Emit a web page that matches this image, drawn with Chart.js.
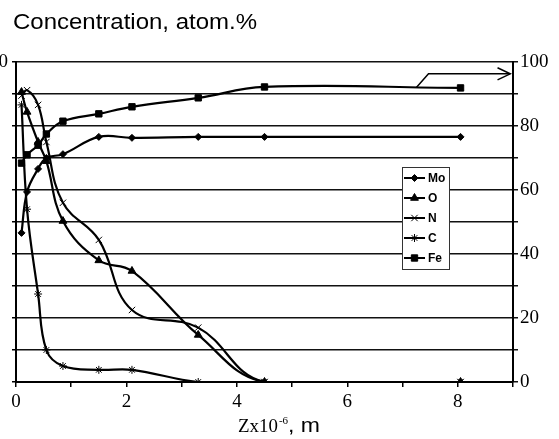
<!DOCTYPE html>
<html>
<head>
<meta charset="utf-8">
<script src="https://cdn.jsdelivr.net/npm/chart.js@4/dist/chart.umd.min.js"></script>
<style>
  html, body { margin: 0; padding: 0; background: #fff; }
  #wrap { position: relative; width: 559px; height: 439px; }
</style>
</head>
<body>
<div id="wrap"><canvas id="chart" width="559" height="439"></canvas></div>
<script>
// depth, x10^-6 m
const depth = [0.1, 0.2, 0.4, 0.55, 0.85, 1.5, 2.1, 3.3, 4.5, 8.05];

// concentrations, atom.%
const mo = [46.6, 59.4, 66.6, 70, 71.2, 76.6, 76.3, 76.6, 76.6, 76.6];
const o  = [90.6, 84.4, 75, 69, 50.3, 38, 34.7, 14.7, 0, 0];
const n  = [89.5, 91.2, 86.6, 75, 56, 44.4, 22.5, 17, 0, 0];
const c  = [86.6, 54, 27.5, 10, 5, 3.8, 3.8, 0, 0, 0];
const fe = [68.4, 71, 74, 77.5, 81.5, 83.8, 86, 88.8, 92.2, 91.9];

// the arrow pointing to the right axis
const arrowX = [7.25, 7.47, 8.95];
const arrowY = [92, 96.3, 96.3];
const headX = [8.72, 8.95, 8.72];
const headY = [98.2, 96.3, 94.4];

const xTicks = [0, 2, 4, 6, 8];
const yTicks = [0, 20, 40, 60, 80, 100];

const pts = (xs, ys) => xs.map((x, i) => ({x, y: ys[i]}));

const series = [
  {label: 'Mo', data: mo, style: 'rectRot', r: 3.5, bw: 1},
  {label: 'O',  data: o,  style: 'triangle', r: 4.5, bw: 1},
  {label: 'N',  data: n,  style: 'crossRot', r: 4.5, bw: 1},
  {label: 'C',  data: c,  style: 'star', r: 4, bw: 1},
  {label: 'Fe', data: fe, style: 'rect', r: 4.5, bw: 1}
];

const datasets = series.map(s => ({
  label: s.label,
  data: pts(depth, s.data),
  borderColor: '#000',
  backgroundColor: '#000',
  borderWidth: 2.2,
  pointStyle: s.style,
  pointRadius: s.r,
  pointBorderWidth: s.bw,
  tension: 0.4,
  yAxisID: 'y'
}));

datasets.push({
  label: 'arrow',
  data: pts(arrowX, arrowY),
  borderColor: '#000',
  borderWidth: 1.5,
  pointRadius: 0,
  tension: 0,
  yAxisID: 'y'
});
datasets.push({
  label: 'head',
  data: pts(headX, headY),
  borderColor: '#000',
  borderWidth: 1.5,
  pointRadius: 0,
  tension: 0,
  yAxisID: 'y'
});

// text stretched sideways, the scan is a bit wider than the font
function wideText(ctx, txt, x, y, sx) {
  ctx.save();
  ctx.translate(x, y);
  ctx.scale(sx, 1);
  ctx.fillText(txt, 0, 0);
  ctx.restore();
  return ctx.measureText(txt).width * sx;
}

// legend box and free texts
const extras = {
  id: 'extras',
  afterDraw(chart) {
    const ctx = chart.ctx;
    ctx.save();
    // title
    ctx.fillStyle = '#000';
    ctx.font = '22px "Liberation Sans", Arial, sans-serif';
    ctx.textBaseline = 'alphabetic';
    ctx.textAlign = 'left';
    const tw = ctx.measureText('Concentration, atom.%').width;
    wideText(ctx, 'Concentration, atom.%', 13, 29, 244 / tw);

    // x axis title
    ctx.font = '18px "Liberation Serif", serif';
    let x = 238;
    x += wideText(ctx, 'Zx10', x, 432, 1.05);
    ctx.font = '11px "Liberation Serif", serif';
    x += wideText(ctx, '-6', x + 1, 424, 1) + 1;
    ctx.font = '20px "Liberation Sans", Arial, sans-serif';
    wideText(ctx, ', m', x, 432, 1.15);

    // legend
    const bx = 402, by = 167, bw = 47, bh = 102;
    ctx.fillStyle = '#fff';
    ctx.fillRect(bx, by, bw, bh);
    ctx.strokeStyle = '#333';
    ctx.lineWidth = 1;
    ctx.strokeRect(bx + 0.5, by + 0.5, bw, bh);
    ctx.font = 'bold 12px "Liberation Sans", Arial, sans-serif';
    ctx.textBaseline = 'middle';
    series.forEach((s, i) => {
      const y = 178 + i * 20;
      ctx.strokeStyle = '#000';
      ctx.fillStyle = '#000';
      ctx.lineWidth = 2;
      ctx.beginPath();
      ctx.moveTo(404, y);
      ctx.lineTo(425, y);
      ctx.stroke();
      ctx.lineWidth = s.bw;
      Chart.helpers.drawPoint(ctx, {pointStyle: s.style, radius: s.r, rotation: 0, borderWidth: s.bw}, 414.5, y);
      ctx.fillStyle = '#000';
      ctx.fillText(s.label, 428, y + 1);
    });
    ctx.restore();
  }
};

const tickFont = {family: '"Liberation Serif", "Times New Roman", serif', size: 19};

new Chart(document.getElementById('chart'), {
  type: 'line',
  data: {datasets},
  options: {
    responsive: false,
    animation: false,
    layout: {padding: {top: 62, left: 0, right: 0, bottom: 0}},
    plugins: {legend: {display: false}, tooltip: {enabled: false}, title: {display: false}},
    scales: {
      x: {
        type: 'linear',
        min: 0,
        max: 9,
        afterFit: s => { s.height = 57; },
        afterBuildTicks: s => { s.ticks = [0,1,2,3,4,5,6,7,8,9].map(v => ({value: v})); },
        ticks: {
          autoSkip: false,
          maxRotation: 0,
          color: '#000',
          font: tickFont,
          padding: 4,
          callback: v => xTicks.includes(v) ? String(v) : ''
        },
        grid: {drawOnChartArea: false, color: '#000', tickLength: 5, lineWidth: 1.5},
        border: {color: '#000', width: 2}
      },
      yL: {
        position: 'left',
        min: 0,
        max: 100,
        afterFit: s => { s.width = 16; },
        ticks: {
          stepSize: 10,
          color: '#000',
          font: tickFont,
          padding: 4,
          callback: v => v === 100 ? '0' : ''
        },
        grid: {drawOnChartArea: false, color: '#000', tickLength: 4, lineWidth: 1.5},
        border: {color: '#000', width: 2}
      },
      y: {
        position: 'right',
        min: 0,
        max: 100,
        afterFit: s => { s.width = 46; },
        ticks: {
          stepSize: 10,
          color: '#000',
          font: tickFont,
          padding: 2,
          callback: v => yTicks.includes(v) ? String(v) : ''
        },
        grid: {drawOnChartArea: true, color: '#111', tickLength: 5, lineWidth: 1.5},
        border: {color: '#000', width: 2}
      }
    }
  },
  plugins: [extras]
});
</script>
</body>
</html>
